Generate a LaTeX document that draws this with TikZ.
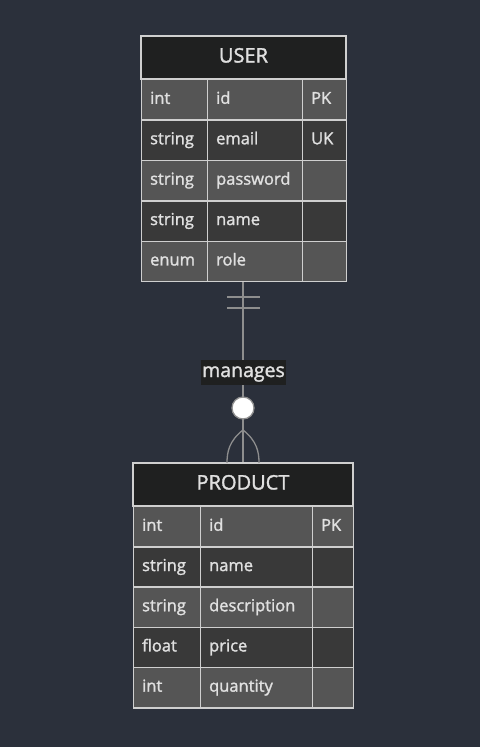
\documentclass[tikz,border=0pt]{standalone}
\usepackage{fontspec}
\setmainfont[FakeBold=1.6]{Open Sans}
\definecolor{bgcol}{HTML}{2B303B}
\definecolor{titlecol}{HTML}{1F2020}
\definecolor{oddcol}{HTML}{555555}
\definecolor{evencol}{HTML}{393939}
\definecolor{gridcol}{HTML}{CFCFCF}
\definecolor{txtcol}{HTML}{E0E0E0}
\definecolor{linkcol}{HTML}{8E8E8E}
\begin{document}
\begin{tikzpicture}[x=1pt,y=-1pt,
    cell/.style={draw=gridcol,line width=1.3pt,anchor=north west,inner xsep=8.5pt,inner ysep=0pt,
        text=txtcol,font=\fontsize{16.5}{18}\selectfont,minimum height=40.4pt,
        text height=11.5pt,text depth=3.5pt,align=left},
    tabtitle/.style={draw=gridcol,line width=1.3pt,fill=titlecol,text=txtcol,
        font=\fontsize{20}{22}\selectfont,inner sep=0pt,minimum height=43pt,
        text height=14pt,text depth=4pt},
    link/.style={draw=linkcol,line width=1.3pt}]

\fill[bgcol] (0,0) rectangle (480,747);

% USER
\node[tabtitle,minimum width=205pt] (user) at (243.5,57.5) {USER};
\foreach \i/\t/\n/\k/\c in {1/int/id/PK/oddcol,2/string/email/UK/evencol,3/string/password//oddcol,4/string/name//evencol,5/enum/role//oddcol}
{
    \node[cell,fill=\c,text width=49pt] (ut\i) at (141,79+40.4*\i-40.4) {\t};
    \node[cell,fill=\c,text width=78pt] (un\i) at (207,79+40.4*\i-40.4) {\n};
    \node[cell,fill=\c,text width=27pt] (uk\i) at (302,79+40.4*\i-40.4) {\k};
}

% PRODUCT
\node[tabtitle,minimum width=220pt] (product) at (243,484.5) {PRODUCT};
\foreach \i/\t/\n/\k/\c in {1/int/id/PK/oddcol,2/string/name//evencol,3/string/description//oddcol,4/float/price//evencol,5/int/quantity//oddcol}
{
    \node[cell,fill=\c,text width=50pt] (pt\i) at (133,506+40.2*\i-40.2) {\t};
    \node[cell,fill=\c,text width=95pt] (pn\i) at (200,506+40.2*\i-40.2) {\n};
    \node[cell,fill=\c,text width=24pt] (pk\i) at (312,506+40.2*\i-40.2) {\k};
}

% relation
\draw[link] (product.north |- ut5.south) -- (product.north);
\draw[link] (227,297) -- (260,297);
\draw[link] (227,308) -- (260,308);
\draw[link] (243,430) .. controls (229,441) and (227,452) .. (227,463);
\draw[link] (243,430) .. controls (257,441) and (259,452) .. (259,463);

\node[fill=titlecol,text=txtcol,font=\fontsize{19.5}{22}\selectfont,inner xsep=1pt,inner ysep=3pt,
    text height=14pt,text depth=5pt] (rel) at (243.5,372.5) {manages};
\node[circle,draw=linkcol,fill=white,line width=1.3pt,minimum size=22pt,inner sep=0pt] (zero) at (243,408) {};
\end{tikzpicture}
\end{document}
